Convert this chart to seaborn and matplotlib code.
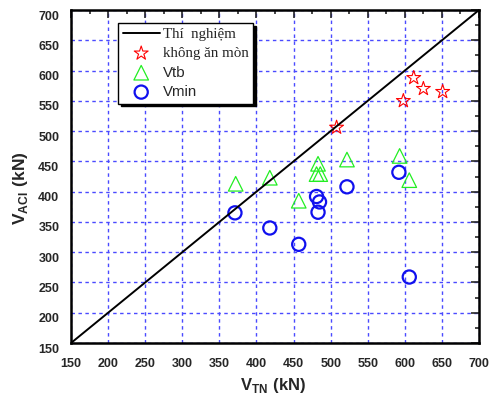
import matplotlib
matplotlib.use("Agg")
import matplotlib.pyplot as plt
import matplotlib.transforms as mtransforms
import seaborn as sns
import numpy as np
from matplotlib.ticker import MultipleLocator

# data
line_x = [150, 700]
line_y = [150, 700]
star_x = [508, 598, 612, 625, 651]
star_y = [506, 550, 588, 570, 565]
tri_x = [372, 418, 457, 483, 481, 486, 522, 593, 606]
tri_y = [413, 423, 385, 446, 429, 429, 453, 459, 419]
cir_x = [371, 418, 457, 481, 485, 483, 522, 592, 606]
cir_y = [365, 340, 313, 392, 383, 366, 408, 432, 259]

sns.set_style("white")
plt.rcParams["font.family"] = ["Liberation Sans", "DejaVu Sans"]
plt.rcParams["mathtext.fontset"] = "custom"
plt.rcParams["mathtext.bf"] = "Liberation Sans:bold"
plt.rcParams["mathtext.rm"] = "Liberation Sans"

fig = plt.figure(figsize=(4.92, 3.96), dpi=100)
ax = fig.add_axes([0.1443, 0.1338, 0.8293, 0.8409])

sns.lineplot(x=line_x, y=line_y, ax=ax, color="black", lw=1.4, label="Thí  nghiệm")
sns.scatterplot(x=star_x, y=star_y, ax=ax, marker="*", s=110, facecolor="none",
                edgecolor="red", linewidth=0.8, label="không ăn mòn")
sns.scatterplot(x=tri_x, y=tri_y, ax=ax, marker="^", s=110, facecolor="none",
                edgecolor="#22ee22", linewidth=0.9, label="Vtb")
sns.scatterplot(x=cir_x, y=cir_y, ax=ax, marker="o", s=90, facecolor="none",
                edgecolor="#1010ee", linewidth=1.6, label="Vmin")

ax.set_xlim(150, 700)
ax.set_ylim(150, 700)
ax.xaxis.set_major_locator(MultipleLocator(50))
ax.yaxis.set_major_locator(MultipleLocator(50))
ax.xaxis.set_minor_locator(MultipleLocator(25))
ax.yaxis.set_minor_locator(MultipleLocator(25))
ax.grid(True, which="major", color="#4a4aff", linestyle=(0, (2.5, 2.5)), lw=1.0)
ax.tick_params(which="both", direction="in", top=True, right=True, width=1.2,
               labelsize=9)
ax.tick_params(which="major", length=6)
ax.tick_params(which="minor", length=3)
ax.tick_params(axis="x", pad=10.5)
ax.tick_params(axis="y", pad=8.4)
offset = mtransforms.ScaledTranslation(0, -5 / 100, fig.dpi_scale_trans)
for lab in ax.get_yticklabels():
    lab.set_transform(lab.get_transform() + offset)
for lab in ax.get_xticklabels() + ax.get_yticklabels():
    lab.set_fontweight("bold")
for sp in ax.spines.values():
    sp.set_linewidth(1.8)
    sp.set_color("black")

ax.set_xlabel(r"$\mathbf{V}_{\mathbf{TN}}\ \mathbf{(kN)}$", fontsize=12)
ax.set_ylabel(r"$\mathbf{V}_{\mathbf{ACI}}\ \mathbf{(kN)}$", fontsize=12.5)
ax.xaxis.set_label_coords(0.496, -0.100)
ax.yaxis.set_label_coords(-0.10, 0.465)

leg = ax.legend(loc="upper left", bbox_to_anchor=(0.116, 0.960), borderaxespad=0,
                fancybox=False, shadow={"color": "black", "alpha": 1}, framealpha=1,
                edgecolor="black", fontsize=10.8, handlelength=2.45,
                borderpad=0.3, labelspacing=0.36, handletextpad=0.2)
leg.get_frame().set_linewidth(1.0)
for t in leg.get_texts()[:2]:
    t.set_fontfamily(["Liberation Serif", "DejaVu Serif"])

fig.savefig("out.png", dpi=100)
